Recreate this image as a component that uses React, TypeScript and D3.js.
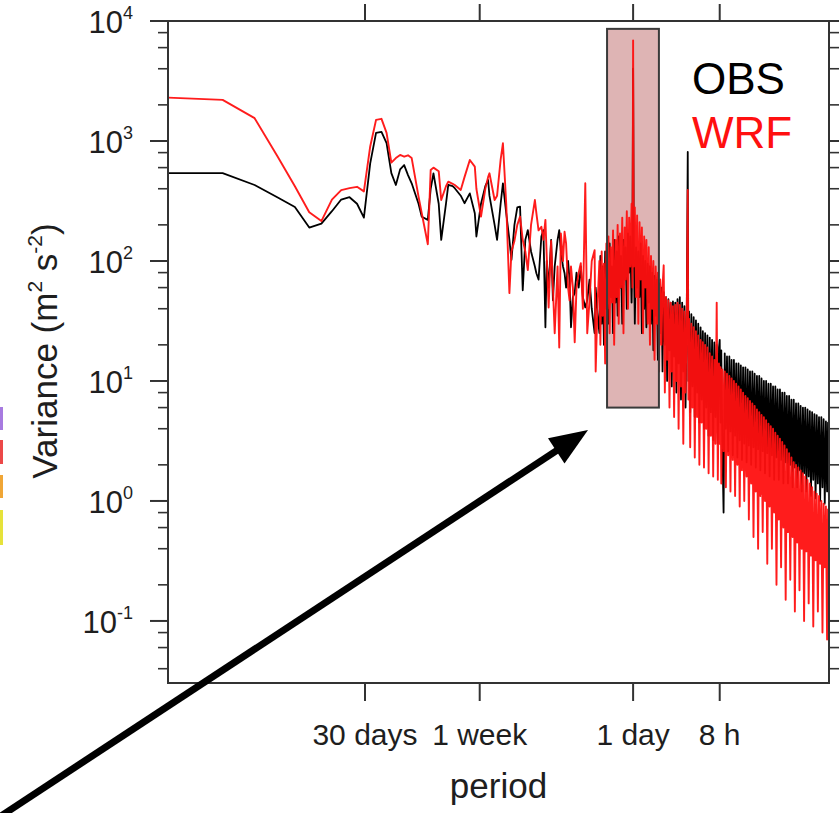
import { useEffect, useRef } from "react";
import * as d3 from "d3";

const HOURS_PER_YEAR = 8760;

// harmonic number (cycles per year) of each spectral estimate
const harmonics = [
  1, 2, 3, 4, 5, 6, 7, 8, 9, 10,
  11, 12, 13, 14, 15, 16, 17, 18, 19, 20,
  21, 22, 24, 25, 27, 28, 29, 31, 32, 34,
  35, 37, 38, 41, 43, 46, 49, 50, 53, 56,
  58, 59, 63, 65, 68, 70, 73, 76, 78, 81,
  84, 87, 90, 93, 96, 100, 105, 107, 110, 114,
  117, 120, 122, 125, 129, 132, 135, 140, 143, 146,
  150, 153, 156, 160, 163, 166, 170, 174, 178, 183,
  188, 193, 199, 204, 210, 216, 224, 227, 232,
  238, 241, 245, 248, 252, 256, 260, 263, 267, 271,
  275, 279, 283, 287, 292, 296, 300, 304, 309, 313,
  318, 323, 328, 332, 337, 342, 347, 352, 358, 362,
  365, 368, 373, 379, 384, 390, 396, 402, 408, 414,
  420, 426, 432, 439, 445, 452, 458, 465, 472, 479,
  486, 493, 500, 508, 515, 523, 530, 538, 546, 554,
  562, 571, 579, 588, 596, 605, 614, 623, 632, 641,
  650, 660, 670, 680, 690, 700, 710, 721, 730, 736,
  742, 753, 764, 775, 787, 798, 810, 822, 834, 846,
  859, 871, 884, 897, 910, 923, 937, 951, 965, 979,
  994, 1008, 1023, 1038, 1054, 1069, 1085, 1095, 1106, 1117,
  1133, 1150, 1167, 1184, 1201, 1219, 1237, 1255, 1273, 1292,
  1311, 1331, 1350, 1370, 1390, 1411, 1431, 1452, 1473, 1495,
  1517, 1540, 1562, 1585, 1608, 1632, 1656, 1681, 1705, 1730,
  1756, 1782, 1808, 1834, 1861, 1889, 1917, 1945, 1973, 2002,
  2032, 2062, 2092, 2123, 2154, 2185, 2217, 2250, 2283, 2317,
  2351, 2385, 2420, 2456, 2492, 2528, 2565, 2603, 2641, 2680,
  2720, 2760, 2800, 2841, 2883, 2925, 2968, 3012, 3056, 3101,
  3147, 3193, 3240, 3287, 3336, 3385, 3435, 3485, 3536, 3588,
  3641, 3694, 3748, 3803, 3859, 3916, 3974, 4032, 4091, 4151,
  4212, 4274, 4327, 4380,
];

// variance (m2 s-2), observations
const obsVariance = [
  540, 540, 430, 340, 282, 190, 205, 260, 325, 340,
  300, 230, 650, 1170, 1190, 960, 540, 430, 580, 630,
  520, 444, 300, 234, 220, 400, 538, 300, 150, 300,
  430, 420, 404, 350, 303, 366, 250, 160, 300, 420,
  473, 350, 200, 150, 300, 444, 250, 150, 102, 200,
  280, 284, 57, 150, 181, 120, 90, 79, 70, 160,
  181, 28, 100, 60, 150, 47, 90, 150, 181, 120,
  90, 79, 60, 100, 70, 28, 50, 54, 80, 60,
  90, 50, 41, 47, 70, 40, 25, 60, 37,
  25, 110, 30, 90, 20, 120, 40, 100, 30, 140,
  50, 90, 25, 150, 45, 120, 35, 160, 60, 110,
  30, 150, 70, 130, 40, 170, 80, 160, 45, 140,
  4000, 150, 30, 130, 60, 120, 50, 140, 25, 110,
  40, 100, 28, 95, 45, 90, 30, 80, 18, 75,
  35, 70, 15, 65, 25, 60, 12, 55, 20, 50,
  10, 48, 18, 45, 9, 46, 16, 45, 8, 48,
  14, 50, 7, 45, 12, 42, 6, 40, 810, 10,
  38, 5.5, 36, 9, 34, 5, 32, 8, 30, 4.5,
  28, 7, 26, 4, 25, 6, 24, 3.5, 23, 5.5,
  22, 3.2, 21, 5, 20, 3, 19, 22, 4.5, 18,
  2.8, 0.8, 17, 4, 16, 2.6, 16, 3.8, 15, 2.4,
  15, 3.5, 14, 2.3, 14, 3.2, 13.5, 2.2, 13, 3,
  13, 2.1, 12.5, 2.9, 12, 2, 12, 2.8, 11.5, 1.9,
  11, 2.7, 11, 1.8, 10.5, 2.6, 10, 1.7, 10, 2.5,
  9.5, 1.6, 9.5, 2.4, 9, 1.5, 9, 2.3, 8.5, 1.5,
  8.5, 2.2, 8, 1.4, 8, 2.1, 7.5, 1.4, 7.5, 2,
  7, 1.3, 7, 1.9, 6.5, 1.3, 6.5, 1.8, 6.2, 1.2,
  6, 1.7, 6, 1.2, 5.8, 1.6, 5.6, 1.1, 5.5, 1.5,
  5.3, 1.05, 5.2, 1.4, 5, 1.0, 5, 1.3, 4.8, 0.95,
  4.6, 1.2, 4.5, 0.9,
];

// variance (m2 s-2), WRF simulation
const wrfVariance = [
  2300, 2200, 1550, 750, 420, 255, 215, 325, 390, 405,
  415, 380, 900, 1500, 1530, 1170, 660, 720, 765, 740,
  760, 720, 344, 250, 138, 573, 600, 560, 322, 420,
  458, 440, 430, 391, 500, 695, 611, 400, 234, 400,
  500, 538, 322, 350, 700, 957, 300, 54, 120, 147,
  200, 234, 150, 120, 84, 200, 322, 250, 180, 193,
  150, 220, 110, 41, 147, 60, 25, 90, 19, 170,
  100, 175, 140, 60, 47, 90, 60, 21, 60, 80,
  96, 40, 445, 25, 47, 100, 123, 12, 40,
  100, 20, 120, 35, 95, 14, 140, 40, 160, 25,
  130, 45, 180, 20, 150, 50, 200, 30, 170, 60,
  230, 25, 190, 70, 260, 40, 230, 90, 300, 60,
  6900, 90, 280, 50, 240, 30, 210, 70, 190, 25,
  160, 60, 150, 30, 130, 20, 110, 40, 100, 15,
  90, 30, 80, 12, 70, 20, 60, 92, 8, 50,
  15, 47, 6, 45, 12, 42, 5, 43, 10, 45,
  4, 43, 9, 40, 3, 38, 8, 35, 390, 7,
  33, 2.8, 30, 6, 28, 2.3, 26, 5, 24, 2,
  22, 4.5, 21, 1.9, 20, 4, 19, 1.7, 17, 3.5,
  16, 1.6, 15, 3, 45, 1.5, 14, 3, 13, 1.4,
  12.5, 2.6, 12, 1.3, 11.5, 2.4, 11, 1.2, 10.5, 2.2,
  10, 1.1, 9.5, 2, 9, 0.9, 8.5, 1.8, 8, 1.0,
  7.5, 1.6, 7.2, 0.7, 6.8, 1.4, 6.5, 0.5, 6.2, 1.2,
  5.8, 0.4, 5.5, 1.1, 5.2, 0.55, 5, 1.0, 4.7, 0.3,
  4.4, 0.9, 4.2, 0.4, 4, 0.8, 3.7, 0.2, 3.5, 0.7,
  3.3, 0.28, 3.1, 0.6, 2.9, 0.15, 2.7, 0.55, 2.5, 0.22,
  2.3, 0.5, 2.1, 0.12, 2, 0.45, 1.9, 0.18, 1.8, 0.4,
  1.7, 0.1, 1.6, 0.38, 1.5, 0.14, 1.4, 0.35, 1.3, 0.09,
  1.2, 0.32, 1.15, 0.12, 1.1, 0.3, 1.0, 0.08, 0.95, 0.28,
  0.9, 0.07, 0.85, 0.3,
];

const periodTickHours = [720, 168, 24, 8];
const periodTickLabels = ["30 days", "1 week", "1 day", "8 h"];
const yMajorExponents = [-1, 0, 1, 2, 3, 4];
const yMinorMultipliers = [2, 4, 6, 8];

// highlighted diurnal band (period in hours, variance range)
const boxPeriodHours = [33.4, 17.3];
const boxVariance = [6, 8600];

const legendNames = ["OBS", "WRF"];
const legendColors = ["#000000", "#ff1010"];

// leftover colour bar of the neighbouring panel
const sideSwatchColors = ["#a77ae0", "#ec4848", "#f0a636", "#e6e23a"];
const sideSwatchSpans = [[407, 430], [440, 464], [475, 498], [510, 545]];

const FONT = "'Liberation Sans', Arial, Helvetica, sans-serif";

const SpectrumChart = () => {
  const svgRef = useRef<SVGSVGElement | null>(null);

  useEffect(() => {
    const width = 839;
    const height = 813;
    const plot = { left: 168, right: 829, top: 21, bottom: 683 };

    const svg = d3.select(svgRef.current);
    svg.selectAll("*").remove();
    svg.attr("width", width).attr("height", height);

    const x = d3.scaleLog()
      .domain([1 / HOURS_PER_YEAR, 1 / 2])
      .range([plot.left, plot.right]);
    const y = d3.scaleLog()
      .domain([0.0304, 1e4])
      .range([plot.bottom, plot.top]);

    svg.append("rect").attr("width", width).attr("height", height).attr("fill", "#fff");

    svg.append("defs").append("clipPath").attr("id", "plot-clip")
      .append("rect")
      .attr("x", plot.left).attr("y", plot.top)
      .attr("width", plot.right - plot.left).attr("height", plot.bottom - plot.top);

    // side colour bar fragment
    svg.append("g")
      .selectAll("rect")
      .data(sideSwatchColors)
      .join("rect")
      .attr("x", 0)
      .attr("y", (_, i) => sideSwatchSpans[i][0])
      .attr("width", 3)
      .attr("height", (_, i) => sideSwatchSpans[i][1] - sideSwatchSpans[i][0])
      .attr("fill", d => d);

    // diurnal box fill
    const bx0 = x(1 / boxPeriodHours[0]);
    const bx1 = x(1 / boxPeriodHours[1]);
    const by0 = y(boxVariance[1]);
    const by1 = y(boxVariance[0]);
    svg.append("rect")
      .attr("x", bx0).attr("y", by0)
      .attr("width", bx1 - bx0).attr("height", by1 - by0)
      .attr("fill", "#deb4b4");

    const n = Math.min(harmonics.length, obsVariance.length, wrfVariance.length);
    const line = d3.line<number>()
      .x((_, i) => x(harmonics[i] / HOURS_PER_YEAR))
      .y(d => y(d));

    const lines = svg.append("g").attr("clip-path", "url(#plot-clip)");
    lines.append("path")
      .attr("d", line(obsVariance.slice(0, n)))
      .attr("fill", "none")
      .attr("stroke", legendColors[0])
      .attr("stroke-width", 1.8)
      .attr("stroke-linejoin", "round");
    lines.append("path")
      .attr("d", line(wrfVariance.slice(0, n)))
      .attr("fill", "none")
      .attr("stroke", legendColors[1])
      .attr("stroke-opacity", 0.95)
      .attr("stroke-width", 1.9)
      .attr("stroke-linejoin", "round");

    // box outline on top of the curves
    svg.append("rect")
      .attr("x", bx0).attr("y", by0)
      .attr("width", bx1 - bx0).attr("height", by1 - by0)
      .attr("fill", "none")
      .attr("stroke", "#3a3a3a")
      .attr("stroke-width", 2);

    // frame
    svg.append("rect")
      .attr("x", plot.left).attr("y", plot.top)
      .attr("width", plot.right - plot.left).attr("height", plot.bottom - plot.top)
      .attr("fill", "none")
      .attr("stroke", "#333")
      .attr("stroke-width", 2);

    const axisColor = "#333";

    // x ticks, bottom and top, pointing outward
    const xTicks = svg.append("g");
    periodTickHours.forEach(h => {
      const px = x(1 / h);
      xTicks.append("line")
        .attr("x1", px).attr("x2", px)
        .attr("y1", plot.bottom).attr("y2", plot.bottom + 18)
        .attr("stroke", axisColor).attr("stroke-width", 2);
      xTicks.append("line")
        .attr("x1", px).attr("x2", px)
        .attr("y1", plot.top).attr("y2", plot.top - 17)
        .attr("stroke", axisColor).attr("stroke-width", 2);
    });
    svg.append("g")
      .selectAll("text")
      .data(periodTickLabels)
      .join("text")
      .attr("x", (_, i) => x(1 / periodTickHours[i]))
      .attr("y", 745)
      .attr("text-anchor", "middle")
      .attr("font-family", FONT)
      .attr("font-size", 30)
      .attr("fill", "#1e1e1e")
      .text(d => d);

    // y ticks, left and right, pointing outward
    const yTicks = svg.append("g");
    yMajorExponents.forEach(e => {
      const v = Math.pow(10, e);
      const py = y(v);
      yTicks.append("line")
        .attr("x1", plot.left - 18).attr("x2", plot.left)
        .attr("y1", py).attr("y2", py)
        .attr("stroke", axisColor).attr("stroke-width", 2);
      yTicks.append("line")
        .attr("x1", plot.right).attr("x2", plot.right + 18)
        .attr("y1", py).attr("y2", py)
        .attr("stroke", axisColor).attr("stroke-width", 2);
      yMinorMultipliers.forEach(m => {
        const mv = m * Math.pow(10, e - 1);
        if (mv < y.domain()[0] || mv > y.domain()[1]) return;
        const my = y(mv);
        yTicks.append("line")
          .attr("x1", plot.left - 10).attr("x2", plot.left)
          .attr("y1", my).attr("y2", my)
          .attr("stroke", axisColor).attr("stroke-width", 1.6);
        yTicks.append("line")
          .attr("x1", plot.right).attr("x2", plot.right + 10)
          .attr("y1", my).attr("y2", my)
          .attr("stroke", axisColor).attr("stroke-width", 1.6);
      });
    });

    const yLabels = svg.append("g")
      .attr("font-family", FONT)
      .attr("fill", "#1e1e1e");
    yMajorExponents.forEach(e => {
      const t = yLabels.append("text")
        .attr("x", 133)
        .attr("y", y(Math.pow(10, e)) + 12)
        .attr("text-anchor", "end")
        .attr("font-size", 31);
      t.append("tspan").text("10");
      t.append("tspan").attr("font-size", 18).attr("dy", -14).text(String(e));
    });

    // axis titles
    svg.append("text")
      .attr("x", (plot.left + plot.right) / 2)
      .attr("y", 798)
      .attr("text-anchor", "middle")
      .attr("font-family", FONT)
      .attr("font-size", 35)
      .attr("fill", "#1e1e1e")
      .text("period");

    const yTitle = svg.append("text")
      .attr("transform", "translate(57,351) rotate(-90)")
      .attr("text-anchor", "middle")
      .attr("font-family", FONT)
      .attr("font-size", 35)
      .attr("fill", "#1e1e1e");
    yTitle.append("tspan").text("Variance (m");
    yTitle.append("tspan").attr("font-size", 21).attr("dy", -15).text("2");
    yTitle.append("tspan").attr("dy", 15).text(" s");
    yTitle.append("tspan").attr("font-size", 21).attr("dy", -15).text("-2");
    yTitle.append("tspan").attr("dy", 15).text(")");

    // legend
    svg.append("g")
      .selectAll("text")
      .data(legendNames)
      .join("text")
      .attr("x", 692)
      .attr("y", (_, i) => 94 + i * 54)
      .attr("font-family", FONT)
      .attr("font-size", 44)
      .attr("fill", (_, i) => legendColors[i])
      .text(d => d);

    // annotation arrow pointing at the box
    const tail = [7, 812];
    const tip = [588, 430];
    const ang = Math.atan2(tip[1] - tail[1], tip[0] - tail[0]);
    const headLen = 38;
    const headHalf = 15;
    const back = [tip[0] - headLen * Math.cos(ang), tip[1] - headLen * Math.sin(ang)];
    const nx = -Math.sin(ang);
    const ny = Math.cos(ang);
    svg.append("line")
      .attr("x1", tail[0] - 20 * Math.cos(ang)).attr("y1", tail[1] - 20 * Math.sin(ang))
      .attr("x2", back[0] + 4 * Math.cos(ang)).attr("y2", back[1] + 4 * Math.sin(ang))
      .attr("stroke", "#000")
      .attr("stroke-width", 7);
    svg.append("path")
      .attr("d", `M${tip[0]},${tip[1]}L${back[0] + headHalf * nx},${back[1] + headHalf * ny}L${back[0] - headHalf * nx},${back[1] - headHalf * ny}Z`)
      .attr("fill", "#000");

    return () => {
      svg.selectAll("*").remove();
    };
  }, []);

  return <svg ref={svgRef} style={{ display: "block" }}></svg>;
};

export default function App() {
  return (
    <div style={{ position: "absolute", left: 0, top: 0, background: "#fff" }}>
      <SpectrumChart />
    </div>
  );
}
